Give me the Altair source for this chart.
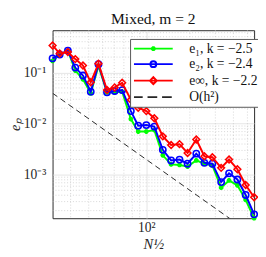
import altair as alt
import pandas as pd

# ---- data ----
x_vals = [22.5, 25.2, 28.7, 32.3, 36.5, 41.3, 46.7, 53.5, 60.4, 68.1, 78.2, 87.9, 100,
          113.6, 130, 148.4, 169.6, 192.8, 221.5, 252, 286, 329, 373, 426, 486, 556]
e1 = [0.168, 0.225, 0.266, 0.109, 0.0734, 0.0393, 0.135, 0.0411, 0.0411, 0.0422, 0.0123,
      0.00703, 0.00703, 0.0075, 0.00241, 0.00160, 0.00156, 0.00145, 0.00191, 0.00165,
      0.00153, 0.000562, 0.000776, 0.000624, 0.000324, 0.000142]
e2 = [0.189, 0.225, 0.268, 0.125, 0.0873, 0.0422, 0.1455, 0.0411, 0.0435, 0.0454, 0.0176,
      0.00916, 0.0094, 0.00877, 0.00308, 0.00191, 0.00199, 0.00165, 0.00259, 0.00172,
      0.00165, 0.000721, 0.00107, 0.000811, 0.000404, 0.000169]
einf = [0.338, 0.235, 0.252, 0.183, 0.137, 0.0644, 0.149, 0.0454, 0.0511, 0.063, 0.0294,
        0.0205, 0.0176, 0.0128, 0.00565, 0.00383, 0.00398, 0.00267, 0.00491, 0.00231,
        0.00221, 0.00137, 0.00199, 0.00129, 0.000632, 0.000366]
ref_x = [22.5, 556]
ref_y = [0.0394, 6.45e-5]

series_names = ["e₁, k = −2.5", "e₂, k = −2.4", "e∞, k = −2.2", "O(h²)"]
series_colors = ["#00ff00", "#0000ff", "#ff0000", "#262626"]

x_major = [100]
x_major_labels = ["10²"]
y_major = [0.001, 0.01, 0.1]
y_major_labels = ["10⁻³", "10⁻²", "10⁻¹"]
x_minor = [30, 40, 50, 60, 70, 80, 90, 200, 300, 400, 500]
y_minor = [2e-4, 3e-4, 4e-4, 5e-4, 6e-4, 7e-4, 8e-4, 9e-4,
           2e-3, 3e-3, 4e-3, 5e-3, 6e-3, 7e-3, 8e-3, 9e-3,
           2e-2, 3e-2, 4e-2, 5e-2, 6e-2, 7e-2, 8e-2, 9e-2,
           0.2, 0.3, 0.4, 0.5, 0.6]
x_domain = [22.5, 556]
y_domain = [1.42e-4, 0.67]

SERIF = "Liberation Serif"

# legend symbols: line + marker as custom paths (unit = 5 px at symbolSize 100)
legend_paths = [
    "M-4,0L4,0M-0.5,0L0.5,0M0,-0.5L0,0.5M-0.35,-0.35L0.35,0.35M-0.35,0.35L0.35,-0.35",
    "M-4,0L4,0M0.6,0A0.6,0.6,0,1,1,-0.6,0A0.6,0.6,0,1,1,0.6,0",
    "M-4,0L4,0M0,-0.7L0.7,0L0,0.7L-0.7,0Z",
    "M-4,0L-2.2,0M-1.2,0L0.8,0M1.8,0L3.8,0",
]
legend_widths = [2, 2, 2, 1]


def label_expr(vals, labels):
    expr = "''"
    for v, l in zip(reversed(vals), reversed(labels)):
        expr = f"abs(datum.value/{v} - 1) < 1e-6 ? '{l}' : ({expr})"
    return expr


X = alt.X("x:Q", scale=alt.Scale(type="log", domain=x_domain, nice=False),
          axis=alt.Axis(values=x_major, labelExpr=label_expr(x_major, x_major_labels),
                        title="N½", titlePadding=2,
                        titleFont=SERIF, titleFontSize=15, titleFontWeight="normal",
                        titleFontStyle="italic",
                        labelFont=SERIF, labelFontSize=14, labelPadding=3,
                        grid=True, gridColor="#dedede", gridWidth=0.8,
                        ticks=False, domain=False, labelColor="#262626", titleColor="#262626"))
Y = alt.Y("y:Q", scale=alt.Scale(type="log", domain=y_domain, nice=False),
          axis=alt.Axis(values=y_major, labelExpr=label_expr(y_major, y_major_labels),
                        title="eₚ", titlePadding=1,
                        titleFont=SERIF, titleFontSize=15, titleFontWeight="normal",
                        titleFontStyle="italic",
                        labelFont=SERIF, labelFontSize=14, labelPadding=7,
                        grid=True, gridColor="#dedede", gridWidth=0.8,
                        ticks=False, domain=False, labelColor="#262626", titleColor="#262626"))

minor_x = alt.Chart(pd.DataFrame({"x": x_minor})).mark_rule(
    color="#c4c4c4", strokeWidth=0.7, strokeDash=[1, 2]).encode(x=X)
minor_y = alt.Chart(pd.DataFrame({"y": y_minor})).mark_rule(
    color="#c4c4c4", strokeWidth=0.7, strokeDash=[1, 2]).encode(y=Y)

ref = alt.Chart(pd.DataFrame({"x": ref_x, "y": ref_y})).mark_line(
    color="#262626", strokeWidth=1, strokeDash=[6, 4], clip=True).encode(x=X, y=Y)

marker_shapes = [
    "M-1,0L1,0M0,-1L0,1M-0.7,-0.7L0.7,0.7M-0.7,0.7L0.7,-0.7",
    "circle",
    "diamond",
]
marker_sizes = [24, 42, 48]

layers = [minor_x, minor_y]
for vals, col, shp, sz in zip([e1, e2, einf], series_colors[:3], marker_shapes, marker_sizes):
    df = pd.DataFrame({"x": x_vals, "y": vals})
    base = alt.Chart(df)
    layers.append(base.mark_line(color=col, strokeWidth=2).encode(x=X, y=Y))
    layers.append(base.mark_point(color=col, shape=shp, size=sz, filled=False,
                                  strokeWidth=1.6, opacity=1).encode(x=X, y=Y))
layers.append(ref)

legend_df = pd.DataFrame({"x": [x_vals[0]] * 4, "y": [e1[0]] * 4, "series": series_names})
leg = alt.Legend(orient="none", legendX=80, legendY=9, title=None, fillColor="white",
                 strokeColor="#555555", padding=3, symbolSize=100, symbolOffset=14,
                 labelFont=SERIF, labelFontSize=14, labelOffset=30, rowPadding=2,
                 labelColor="#111111", symbolOpacity=1)
legend_layer = alt.Chart(legend_df).mark_point(filled=False, size=100, opacity=1).encode(
    x=X, y=Y,
    color=alt.Color("series:N", scale=alt.Scale(domain=series_names, range=series_colors), legend=leg),
    shape=alt.Shape("series:N", scale=alt.Scale(domain=series_names, range=legend_paths), legend=leg),
    strokeWidth=alt.StrokeWidth("series:N", scale=alt.Scale(domain=series_names, range=legend_widths), legend=leg),
).transform_filter("false")
layers.append(legend_layer)

chart = alt.layer(*layers).properties(
    width=208, height=194,
    title=alt.TitleParams("Mixed, m = 2", font=SERIF, fontSize=16, fontWeight="normal",
                          offset=3, color="#111111"),
    autosize=alt.AutoSizeParams(type="none"),
    padding={"left": 46, "top": 19, "right": 4, "bottom": 34},
).configure_view(stroke="#262626", strokeWidth=1)

chart.save("out.html", embed_options={"renderer": "svg", "actions": False})
